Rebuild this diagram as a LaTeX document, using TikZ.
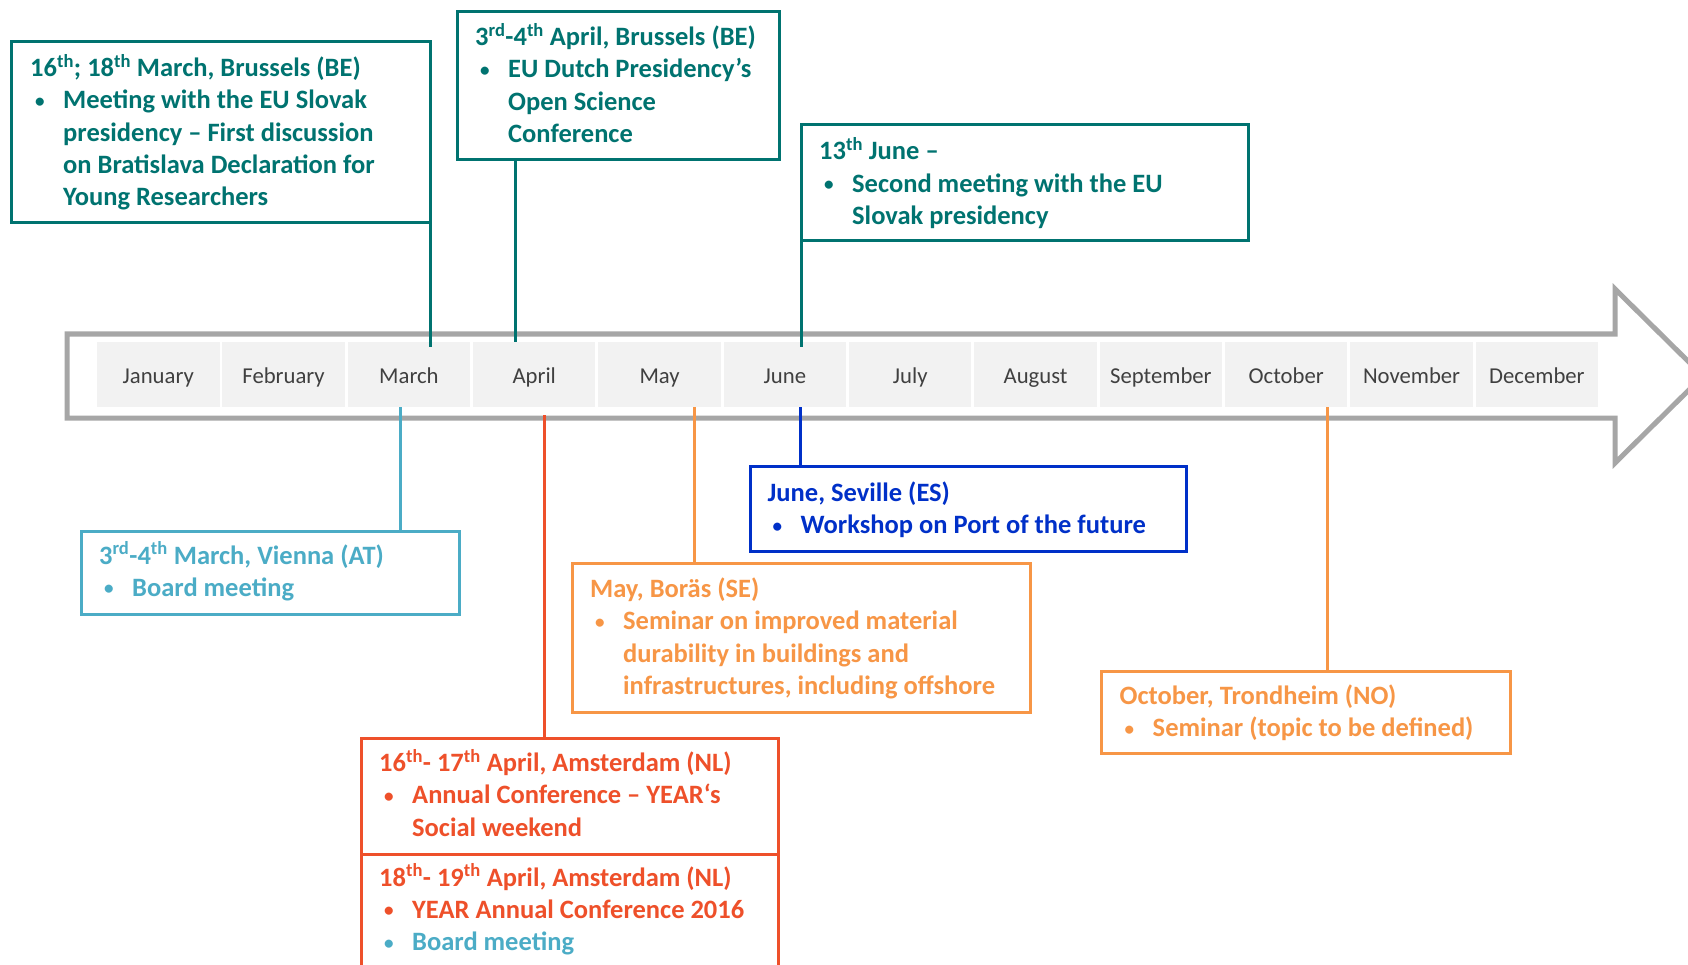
\documentclass[tikz,border=0pt]{standalone}
\usepackage{fontspec}
\setmainfont{Carlito}
\definecolor{ycteal}{RGB}{0,115,112}
\definecolor{ycltblue}{RGB}{75,172,198}
\definecolor{ycred}{RGB}{238,80,42}
\definecolor{ycorange}{RGB}{247,150,70}
\definecolor{ycblue}{RGB}{0,48,200}
\definecolor{ycgray}{RGB}{166,166,166}
\definecolor{yccell}{RGB}{242,242,242}
\definecolor{ycmonth}{RGB}{64,64,64}
\newcommand{\evt}[1]{\parbox[t]{700pt}{\fontsize{26.5}{32.3}\selectfont\bfseries #1}}
\newcommand{\bul}{\hspace*{5pt}\makebox[28pt][l]{\raisebox{1.5pt}{\scalebox{0.72}{\textbullet}}}}
\newcommand{\ind}{\hspace*{33pt}}
\newcommand{\sups}[1]{\textsuperscript{#1}}
\tikzset{
  evbox/.style={draw=#1, line width=3pt, fill=white, outer sep=0pt, inner sep=0pt, anchor=north west},
  evtxt/.style={anchor=base west, inner sep=0pt, text=#1},
  conn/.style={draw=#1, line width=3pt},
  cell/.style={fill=yccell, minimum width=122.5pt, minimum height=65pt, inner sep=0pt, text=ycmonth, font=\fontsize{22.7}{27}\selectfont, text height=19pt, text depth=1pt},
}
\begin{document}
\begin{tikzpicture}[x=1pt,y=-1pt]
\useasboundingbox (0,0) rectangle (1688,965);
\clip (0,0) rectangle (1688,965);
\fill[white] (0,0) rectangle (1688,965);
% timeline arrow
\draw[ycgray, line width=5pt, fill=white, line join=miter]
  (67,334) -- (1615,334) -- (1615,289) -- (1703,376) -- (1615,463) -- (1615,418) -- (67,418) -- cycle;
\foreach \m [count=\i] in {January,February,March,April,May,June,July,August,September,October,November,December}{
  \node[cell] (m\i) at ({97+(\i-1)*125.33+61.25},374.5) {\m};
}
% boxes
\node[evbox=ycteal, minimum width=419pt, minimum height=181pt] (b1) at (11,42) {};
\node[evbox=ycteal, minimum width=322pt, minimum height=148pt] (b2) at (457,12) {};
\node[evbox=ycteal, minimum width=447pt, minimum height=116pt] (b3) at (801,125) {};
\node[evbox=ycltblue, minimum width=378pt, minimum height=83pt] (lb) at (81,531) {};
\node[evbox=ycblue, minimum width=436pt, minimum height=85pt] (bl) at (750,466) {};
\node[evbox=ycorange, minimum width=458pt, minimum height=149pt] (o1) at (572,563) {};
\node[evbox=ycorange, minimum width=409pt, minimum height=82pt] (o2) at (1101,671) {};
\node[evbox=ycred, minimum width=417pt, minimum height=115.5pt] (r1) at (361,738.5) {};
\node[evbox=ycred, minimum width=417pt, minimum height=146pt] (r2) at (361,854) {};
% connectors above
\draw[conn=ycteal] (b1.south east) -- ([yshift=-5pt]b1.south east |- m3.north);
\draw[conn=ycteal] ([xshift=58pt]b2.south west) -- ([xshift=58pt]b2.south west |- m4.north);
\draw[conn=ycteal] (b3.south west) -- ([yshift=-5pt]b3.south west |- m6.north);
% connectors below
\draw[conn=ycltblue] ([xshift=-8pt]m3.south) -- ([xshift=-8pt]m3.south |- lb.north);
\draw[conn=ycred] ([xshift=10pt,yshift=-8pt]m4.south) -- ([xshift=10pt]m4.south |- r1.north);
\draw[conn=ycorange] ([xshift=34.5pt]m5.south) -- ([xshift=34.5pt]m5.south |- o1.north);
\draw[conn=ycblue] ([xshift=16pt]m6.south) -- ([xshift=16pt]m6.south |- bl.north);
\draw[conn=ycorange] ([xshift=41pt]m10.south) -- ([xshift=41pt]m10.south |- o2.north);
% texts
\node[evtxt=ycteal] (t1) at ([xshift=19pt,yshift=-34.5pt]b1.north west) {\evt{16\sups{th}; 18\sups{th} March, Brussels (BE)\\
\bul Meeting with the EU Slovak\\
\ind presidency – First discussion\\
\ind on Bratislava Declaration for\\
\ind Young Researchers}};
\node[evtxt=ycteal] (t2) at ([xshift=18pt,yshift=-33.5pt]b2.north west) {\evt{3\sups{rd}-4\sups{th} April, Brussels (BE)\\
\bul EU Dutch Presidency’s\\
\ind Open Science\\
\ind Conference}};
\node[evtxt=ycteal] (t3) at ([xshift=18pt,yshift=-35pt]b3.north west) {\evt{13\sups{th} June –\\
\bul Second meeting with the EU\\
\ind Slovak presidency}};
\node[evtxt=ycltblue] (t4) at ([xshift=18pt,yshift=-33pt]lb.north west) {\evt{3\sups{rd}-4\sups{th} March, Vienna (AT)\\
\bul Board meeting}};
\node[evtxt=ycblue] (t5) at ([xshift=17.5pt,yshift=-35.5pt]bl.north west) {\evt{June, Seville (ES)\\
\bul Workshop on Port of the future}};
\node[evtxt=ycorange] (t6) at ([xshift=18pt,yshift=-34.5pt]o1.north west) {\evt{May, Boräs (SE)\\
\bul Seminar on improved material\\
\ind durability in buildings and\\
\ind infrastructures, including offshore}};
\node[evtxt=ycorange] (t7) at ([xshift=18.5pt,yshift=-33.5pt]o2.north west) {\evt{October, Trondheim (NO)\\
\bul Seminar (topic to be defined)}};
\node[evtxt=ycred] (t8) at ([xshift=18pt,yshift=-33pt]r1.north west) {\evt{16\sups{th}- 17\sups{th} April, Amsterdam (NL)\\
\bul Annual Conference – YEAR‘s\\
\ind Social weekend}};
\node[evtxt=ycred] (t9) at ([xshift=18pt,yshift=-32pt]r2.north west) {\evt{18\sups{th}- 19\sups{th} April, Amsterdam (NL)\\
\bul YEAR Annual Conference 2016\\
\textcolor{ycltblue}{\bul Board meeting}}};
\end{tikzpicture}
\end{document}
